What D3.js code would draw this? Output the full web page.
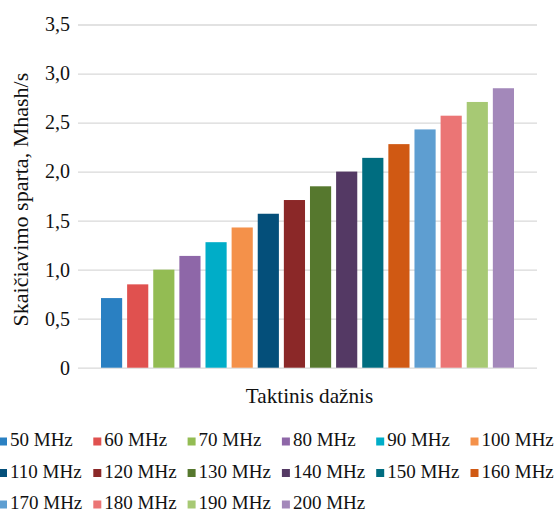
<!DOCTYPE html>
<html>
<head>
<meta charset="utf-8">
<script src="https://cdn.jsdelivr.net/npm/d3@7"></script>
<style>
  html, body { margin: 0; padding: 0; background: #fff; }
  svg { display: block; }
  svg text { font-family: "Liberation Serif", "Times New Roman", Tinos, "DejaVu Serif", serif; }
</style>
</head>
<body>
<svg id="chart" width="554" height="514"></svg>
<script>
// Hash rate per clock frequency
const frequencies = ["50 MHz", "60 MHz", "70 MHz", "80 MHz", "90 MHz", "100 MHz",
  "110 MHz", "120 MHz", "130 MHz", "140 MHz", "150 MHz", "160 MHz",
  "170 MHz", "180 MHz", "190 MHz", "200 MHz"];
const hashRates = [0.71, 0.85, 1.00, 1.14, 1.28, 1.43, 1.57, 1.71,
  1.85, 2.00, 2.14, 2.28, 2.43, 2.57, 2.71, 2.85];
const barColors = ["#2A80C2", "#E0514F", "#93BC53", "#8E67A8", "#00ADC8", "#F4914A",
  "#044F7A", "#8B2828", "#56782E", "#543964", "#006D80", "#D05913",
  "#5E9ED1", "#EB7575", "#A7C974", "#A388BA"];
const yTicks = [0, 0.5, 1.0, 1.5, 2.0, 2.5, 3.0, 3.5];
const yTitle = "Skaičiavimo sparta, Mhash/s";
const xTitle = "Taktinis dažnis";

const FONT = "'Liberation Serif', 'Times New Roman', Tinos, 'DejaVu Serif', serif";

const svg = d3.select("#chart");
const plot = { left: 78, right: 537, top: 24.5, bottom: 367.7 };

const y = d3.scaleLinear().domain([0, 3.5]).range([plot.bottom, plot.top]);
const x = d3.scaleBand()
  .domain(frequencies)
  .range([plot.left + 23, plot.right - 23])
  .paddingInner(0.19)
  .paddingOuter(0);
const color = d3.scaleOrdinal().domain(frequencies).range(barColors);

const fmt = v => v === 0 ? "0" : d3.format(".1f")(v).replace(".", ",");

// gridlines and tick labels
const yAxis = d3.axisLeft(y)
  .tickValues(yTicks)
  .tickSize(-(plot.right - plot.left))
  .tickPadding(8)
  .tickFormat(fmt);

const gy = svg.append("g")
  .attr("transform", `translate(${plot.left},0)`)
  .call(yAxis)
  .attr("font-family", FONT)
  .attr("font-size", 20);
gy.select(".domain").remove();
gy.selectAll(".tick line").attr("stroke", "#d9d9d9").attr("stroke-width", 1.3);
gy.selectAll(".tick text")
  .attr("fill", "#111")
  .attr("font-size", 20)
  .attr("font-family", FONT);

// bars
svg.append("g").selectAll("rect")
  .data(frequencies.map((f, i) => ({ f, v: hashRates[i] })))
  .join("rect")
  .attr("x", d => x(d.f))
  .attr("width", x.bandwidth())
  .attr("y", d => y(d.v))
  .attr("height", d => y(0) - y(d.v))
  .attr("fill", d => color(d.f));

// axis titles
svg.append("text")
  .attr("x", (plot.left + plot.right) / 2 + 2)
  .attr("y", 403)
  .attr("text-anchor", "middle")
  .attr("font-family", FONT)
  .attr("font-size", 21.2)
  .attr("fill", "#111")
  .text(xTitle);

svg.append("text")
  .attr("transform", `translate(28,${(plot.top + plot.bottom) / 2 + 3.5}) rotate(-90)`)
  .attr("text-anchor", "middle")
  .attr("font-family", FONT)
  .attr("font-size", 22)
  .attr("fill", "#111")
  .text(yTitle);

// legend
const cols = 6, colStep = 94.3, rowStep = 31.5;
const legend = svg.append("g");
const items = legend.selectAll("g")
  .data(frequencies)
  .join("g")
  .attr("transform", (d, i) => `translate(${-1 + (i % cols) * colStep},${446 + Math.floor(i / cols) * rowStep})`);
items.append("rect")
  .attr("x", 0).attr("y", -8.5)
  .attr("width", 8).attr("height", 8)
  .attr("fill", d => color(d));
items.append("text")
  .attr("x", 11)
  .attr("y", 0)
  .attr("font-family", FONT)
  .attr("font-size", 19)
  .attr("fill", "#111")
  .text(d => d);
</script>
</body>
</html>
